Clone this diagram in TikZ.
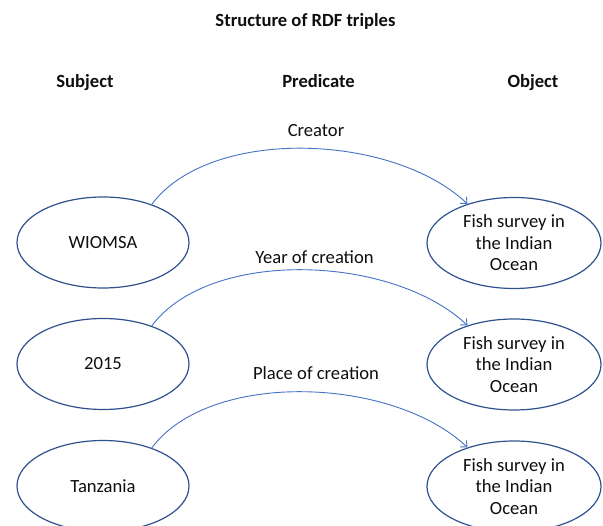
\documentclass[tikz,border=0pt]{standalone}
\usepackage{fontspec}
\setmainfont{Carlito}
\usetikzlibrary{shapes.geometric,arrows.meta}

\definecolor{shapeline}{RGB}{47,82,143}
\definecolor{linkline}{RGB}{68,114,196}
\definecolor{ink}{RGB}{15,15,15}

\tikzset{
  every node/.style={text=ink, font=\fontsize{18.6}{21.5}\selectfont},
  heading/.style={font=\fontsize{18.6}{21.5}\selectfont\bfseries, anchor=base, inner sep=0pt},
  predlabel/.style={anchor=base, inner sep=0pt},
  resource/.style={ellipse, draw=shapeline, line width=1.2pt, fill=white,
    minimum width=172pt, minimum height=91pt, inner sep=0pt, align=center},
  literal/.style={resource, minimum width=174pt},
  link/.style={draw=linkline, line width=0.9pt,
    -{Straight Barb[length=5pt,width=9pt,line width=0.9pt]}}
}

\begin{document}
\begin{tikzpicture}[x=1pt,y=-1pt]
  \clip (0,0) rectangle (603,526);
  \fill[white] (0,0) rectangle (603,526);

  % title and column headings
  \node[heading] (title) at (305.5,27) {Structure of RDF triples};
  \node[heading] (hsub)  at (85,88)    {Subject};
  \node[heading] (hpred) at (318.5,88) {Predicate};
  \node[heading] (hobj)  at (533,88)   {Object};

  % subjects
  \node[resource] (s1) at (103,242.5) {WIOMSA};
  \node[resource] (s2) at (103,364)   {2015};
  \node[resource] (s3) at (103,486)   {Tanzania};

  % objects
  \node[literal] (o1) at (514,243)   {Fish survey in\\the Indian\\Ocean};
  \node[literal] (o2) at (514,364.5) {Fish survey in\\the Indian\\Ocean};
  \node[literal] (o3) at (514,486.5) {Fish survey in\\the Indian\\Ocean};

  % predicates
  \draw[link] (s1.38) .. controls +(58,-78) and +(-75,-71) .. (o1.140);
  \draw[link] (s2.38) .. controls +(58,-78) and +(-75,-71) .. (o2.140);
  \draw[link] (s3.38) .. controls +(58,-78) and +(-75,-71) .. (o3.140);

  \node[predlabel] (p1) at (316,136.5) {Creator};
  \node[predlabel] (p2) at (314.5,264) {Year of creation};
  \node[predlabel] (p3) at (316,380)   {Place of creation};
\end{tikzpicture}
\end{document}
